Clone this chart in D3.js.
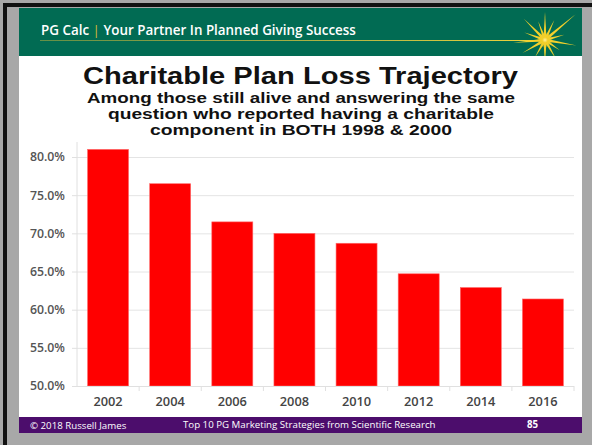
<!DOCTYPE html>
<html>
<head>
<meta charset="utf-8">
<script src="https://cdn.jsdelivr.net/npm/d3@7"></script>
<style>
  html, body { margin: 0; padding: 0; background: #a8a8a8; }
  svg { display: block; }
</style>
</head>
<body>
<svg id="chart" width="592" height="445"></svg>
<script>
// Survey waves and share still reporting a charitable plan component
const years = ["2002", "2004", "2006", "2008", "2010", "2012", "2014", "2016"];
const shares = [0.810, 0.765, 0.715, 0.700, 0.687, 0.647, 0.629, 0.614];
const yTicks = [0.50, 0.55, 0.60, 0.65, 0.70, 0.75, 0.80];

const titleText = "Charitable Plan Loss Trajectory";
const subtitleLines = [
  "Among those still alive and answering the same",
  "question who reported having a charitable",
  "component in BOTH 1998 & 2000"
];
const subtitleWidths = [428, 386, 302];

const svg = d3.select("#chart");
const W = 592, H = 445;

// Slide frame
svg.append("rect").attr("x", 0).attr("y", 0).attr("width", W).attr("height", H).attr("fill", "#a8a8a8");
svg.append("rect").attr("x", 3).attr("y", 3).attr("width", W - 3).attr("height", 4).attr("fill", "#111");
svg.append("rect").attr("x", 3).attr("y", 3).attr("width", 4).attr("height", H - 3).attr("fill", "#111");

// Slide body
svg.append("rect").attr("x", 19).attr("y", 8).attr("width", 563).attr("height", 425).attr("fill", "#ffffff");

// Header band
const headerG = svg.append("g");
headerG.append("rect").attr("x", 19).attr("y", 8).attr("width", 563).attr("height", 48).attr("fill", "#016b53");

const defs = svg.append("defs");
const lineGrad = defs.append("linearGradient").attr("id", "goldLine").attr("x1", "0%").attr("x2", "100%");
lineGrad.append("stop").attr("offset", "0%").attr("stop-color", "#c9b53a").attr("stop-opacity", 0.5);
lineGrad.append("stop").attr("offset", "70%").attr("stop-color", "#d8c640").attr("stop-opacity", 0.9);
lineGrad.append("stop").attr("offset", "100%").attr("stop-color", "#f5d63a").attr("stop-opacity", 1);
headerG.append("rect").attr("x", 40).attr("y", 40).attr("width", 505).attr("height", 1).attr("fill", "url(#goldLine)");

const glow = defs.append("radialGradient").attr("id", "starGlow");
glow.append("stop").attr("offset", "0%").attr("stop-color", "#fff3a0").attr("stop-opacity", 1);
glow.append("stop").attr("offset", "35%").attr("stop-color", "#f3cf2a").attr("stop-opacity", 0.9);
glow.append("stop").attr("offset", "100%").attr("stop-color", "#f3cf2a").attr("stop-opacity", 0);

defs.append("clipPath").attr("id", "headerClip")
  .append("rect").attr("x", 19).attr("y", 8).attr("width", 563).attr("height", 48);

// Starburst in the header corner
const star = headerG.append("g").attr("clip-path", "url(#headerClip)");
const cx = 545, cy = 40;
const rays = [
  [-90, 28], [-65, 22], [-40, 40], [-15, 20], [10, 32], [35, 18], [60, 22], [90, 24],
  [120, 20], [150, 26], [175, 32], [200, 22], [225, 30], [250, 20]
];
rays.forEach(([deg, len]) => {
  const a = deg * Math.PI / 180;
  const w = 1.6;
  const px = Math.cos(a + Math.PI / 2) * w, py = Math.sin(a + Math.PI / 2) * w;
  const tx = cx + Math.cos(a) * len, ty = cy + Math.sin(a) * len;
  star.append("path")
    .attr("d", `M${cx + px},${cy + py} L${tx},${ty} L${cx - px},${cy - py} Z`)
    .attr("fill", "#f2d02b");
});
star.append("circle").attr("cx", cx).attr("cy", cy).attr("r", 8).attr("fill", "url(#starGlow)");

const headerText = headerG.append("text")
  .attr("x", 41).attr("y", 35)
  .attr("font-family", "'Open Sans', sans-serif")
  .attr("font-size", 13.4).attr("font-weight", 600)
  .attr("fill", "#ffffff");
headerText.append("tspan").text("PG Calc ");
headerText.append("tspan").attr("fill", "#d9b93a").attr("font-weight", 400).text(" | ");
headerText.append("tspan").text(" Your Partner In Planned Giving Success");

// Title and three-line subtitle, set tight like the slide heading
const headFont = "'Liberation Sans', Arial, sans-serif";
svg.append("text")
  .attr("x", 300.5).attr("y", 84)
  .attr("text-anchor", "middle")
  .attr("font-family", headFont)
  .attr("font-size", 24.5).attr("font-weight", 700)
  .attr("fill", "#111")
  .attr("textLength", 435).attr("lengthAdjust", "spacingAndGlyphs")
  .text(titleText);

svg.selectAll("text.sub")
  .data(subtitleLines)
  .join("text")
  .attr("class", "sub")
  .attr("x", 301)
  .attr("y", (d, i) => 102.5 + i * 16)
  .attr("text-anchor", "middle")
  .attr("font-family", headFont)
  .attr("font-size", 14).attr("font-weight", 700)
  .attr("fill", "#111")
  .attr("textLength", (d, i) => subtitleWidths[i]).attr("lengthAdjust", "spacingAndGlyphs")
  .text(d => d);

// Bar chart
const plot = { left: 77, right: 574, top: 140, bottom: 386 };
const x = d3.scaleBand().domain(years).range([plot.left, plot.right]).paddingInner(0.34).paddingOuter(0.17);
const y = d3.scaleLinear().domain([0.50, 0.80]).range([plot.bottom, 157]);

const chart = svg.append("g");

// Horizontal gridlines
chart.append("g")
  .attr("transform", `translate(${plot.left},0)`)
  .call(d3.axisLeft(y).tickValues(yTicks).tickSize(-(plot.right - plot.left)).tickFormat(""))
  .call(g => g.select(".domain").remove())
  .call(g => g.selectAll("line").attr("stroke", "#e4e4e4").attr("stroke-width", 1));

// Y axis ticks and labels
chart.append("g")
  .attr("transform", `translate(${plot.left},0)`)
  .call(d3.axisLeft(y).tickValues(yTicks).tickSize(5).tickPadding(7).tickFormat(d3.format(".1%")))
  .call(g => g.select(".domain").attr("stroke", "#e0e0e0").attr("d", `M0,${plot.top + 2}V${plot.bottom}`))
  .call(g => g.selectAll("line").attr("stroke", "#e0e0e0"))
  .call(g => g.selectAll("text")
    .attr("font-family", "'Open Sans', sans-serif")
    .attr("font-size", 12.3).attr("font-weight", 600)
    .attr("fill", "#555"));

// Bars
chart.selectAll("rect.bar")
  .data(years.map((yr, i) => ({ yr, v: shares[i] })))
  .join("rect")
  .attr("class", "bar")
  .attr("x", d => x(d.yr))
  .attr("width", x.bandwidth())
  .attr("y", d => y(d.v))
  .attr("height", d => y(0.50) - y(d.v))
  .attr("fill", "#ff0000")
  .attr("stroke", "#ff6a6a")
  .attr("stroke-width", 0.6);

// X axis with category dividers
const step = x.step();
const dividers = years.slice(1).map(yr => x(yr) - (step - x.bandwidth()) / 2);
chart.append("line")
  .attr("x1", plot.left - 5).attr("x2", plot.right)
  .attr("y1", plot.bottom + 0.5).attr("y2", plot.bottom + 0.5)
  .attr("stroke", "#e0e0e0");
chart.selectAll("line.div")
  .data(dividers.concat([plot.right]))
  .join("line")
  .attr("class", "div")
  .attr("x1", d => d).attr("x2", d => d)
  .attr("y1", plot.bottom).attr("y2", plot.bottom + 5)
  .attr("stroke", "#e0e0e0");

chart.append("g")
  .attr("transform", `translate(0,${plot.bottom})`)
  .call(d3.axisBottom(x).tickSize(0).tickPadding(11))
  .call(g => g.select(".domain").remove())
  .call(g => g.selectAll("text")
    .attr("font-family", "'Open Sans', sans-serif")
    .attr("font-size", 12.8).attr("font-weight", 600)
    .attr("fill", "#444"));

// Footer band
const footer = svg.append("g");
footer.append("rect").attr("x", 19).attr("y", 417).attr("width", 563).attr("height", 16).attr("fill", "#4c0d6c");
const footStyle = sel => sel
  .attr("font-family", "'Open Sans', sans-serif")
  .attr("font-size", 9.7)
  .attr("fill", "#ffffff");
footer.append("text").attr("x", 30).attr("y", 429).call(footStyle).text("© 2018 Russell James");
footer.append("text").attr("x", 183).attr("y", 428).call(footStyle).text("Top 10 PG Marketing Strategies from Scientific Research");
footer.append("text").attr("x", 527).attr("y", 428).call(footStyle).attr("font-weight", 700).text("85");
</script>
</body>
</html>
